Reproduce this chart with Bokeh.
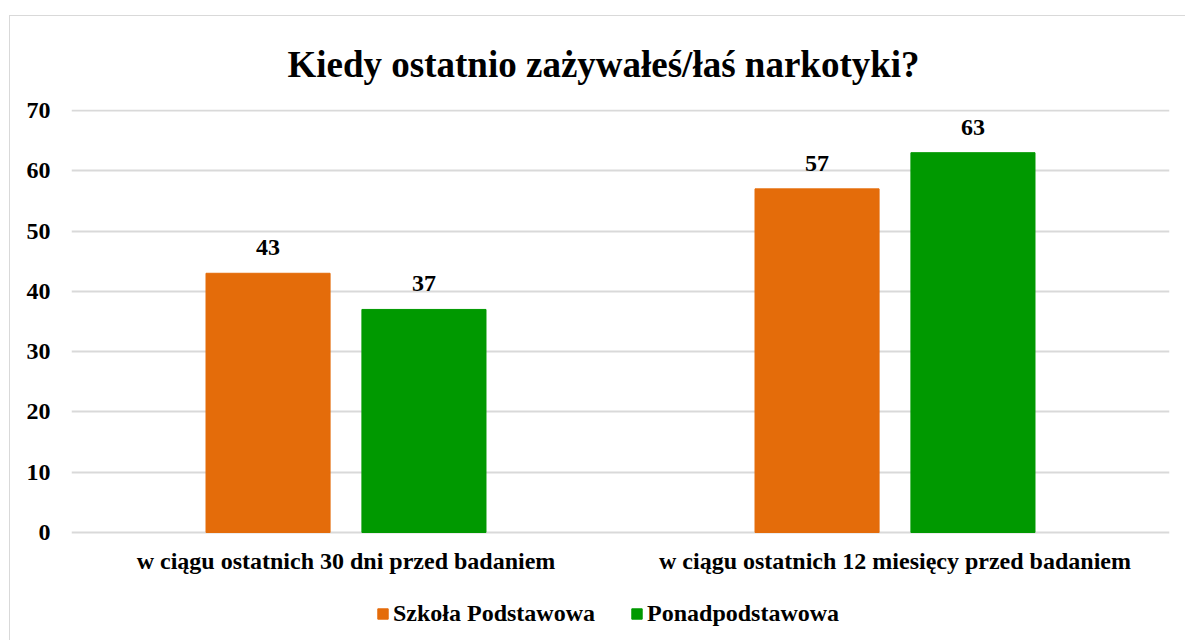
from bokeh.plotting import figure
from bokeh.models import ColumnDataSource, FactorRange, Range1d, LabelSet, Legend, LegendItem
from bokeh.transform import dodge
from bokeh.embed import file_html
from bokeh.resources import INLINE

categories = ["w ciągu ostatnich 30 dni przed badaniem", "w ciągu ostatnich 12 miesięcy przed badaniem"]
series_names = ["Szkoła Podstawowa", "Ponadpodstawowa"]
szkola_podstawowa = [43, 57]
ponadpodstawowa = [37, 63]
y_ticks = [0, 10, 20, 30, 40, 50, 60, 70]
title_text = "Kiedy ostatnio zażywałeś/łaś narkotyki?"

ORANGE = "#E46C0A"
GREEN = "#009900"
FONT = "Liberation Serif"

src = ColumnDataSource(dict(
    cat=categories,
    base=[0] * len(categories),
    sp=szkola_podstawowa,
    pp=ponadpodstawowa,
    sp_lbl=[str(v) for v in szkola_podstawowa],
    pp_lbl=[str(v) for v in ponadpodstawowa],
))

# frame extends below the value axis so that the legend (drawn in the frame) is visible
p = figure(
    x_range=FactorRange(*categories, range_padding=0),
    y_range=Range1d(-17.915, 70.166),
    frame_width=1098, frame_height=531,
    output_backend="svg", toolbar_location=None,
    min_border_left=61, min_border_right=16, min_border_top=90, min_border_bottom=0,
)
p.margin = (15, 0, 0, 9)
p.styles = {"border-left": "1px solid #d9d9d9", "border-top": "1px solid #d9d9d9"}

r1 = p.vbar(x=dodge("cat", -0.142, range=p.x_range), top="sp", width=0.226, source=src,
            fill_color=ORANGE, line_color=ORANGE)
r2 = p.vbar(x=dodge("cat", 0.142, range=p.x_range), top="pp", width=0.226, source=src,
            fill_color=GREEN, line_color=GREEN)

for col, off in (("sp", -0.142), ("pp", 0.142)):
    labels = LabelSet(x=dodge("cat", off, range=p.x_range), y=col, text=col + "_lbl", source=src,
                      text_align="center", text_baseline="bottom", y_offset=18,
                      text_font=FONT, text_font_size="24px", text_font_style="bold",
                      text_color="black")
    p.add_layout(labels)

# category labels under the zero line
cat_labels = LabelSet(x="cat", y="base", text="cat", source=src,
                      text_align="center", text_baseline="top", y_offset=-16,
                      text_font=FONT, text_font_size="24px", text_font_style="bold",
                      text_color="black")
p.add_layout(cat_labels)

p.title.text = title_text
p.title.align = "left"
p.title.offset = 216
p.title.text_font = FONT
p.title.text_font_size = "37px"
p.title.text_font_style = "bold"
p.title.text_color = "black"
p.title.standoff = 50

p.outline_line_color = None
p.xgrid.grid_line_color = None
p.xaxis.visible = False
p.ygrid.grid_line_color = "#D9D9D9"
p.ygrid.grid_line_width = 2
p.yaxis.ticker = y_ticks
p.yaxis.axis_line_color = None
p.yaxis.major_tick_line_color = None
p.yaxis.minor_tick_line_color = None
p.yaxis.major_tick_out = 0
p.yaxis.major_tick_in = 0
p.yaxis.major_label_text_font = FONT
p.yaxis.major_label_text_font_size = "24px"
p.yaxis.major_label_text_font_style = "bold"
p.yaxis.major_label_text_color = "black"
p.yaxis.major_label_standoff = 21

legend = Legend(items=[LegendItem(label=series_names[0], renderers=[r1]),
                       LegendItem(label=series_names[1], renderers=[r2])],
                orientation="horizontal", location=(305, 13),
                glyph_width=13, glyph_height=13, label_standoff=4, spacing=35,
                label_text_font=FONT, label_text_font_size="24px", label_text_font_style="bold",
                label_text_color="black", border_line_color=None, background_fill_alpha=0,
                padding=0, margin=0)
p.add_layout(legend)

open("out.html", "w").write(file_html(p, INLINE))
